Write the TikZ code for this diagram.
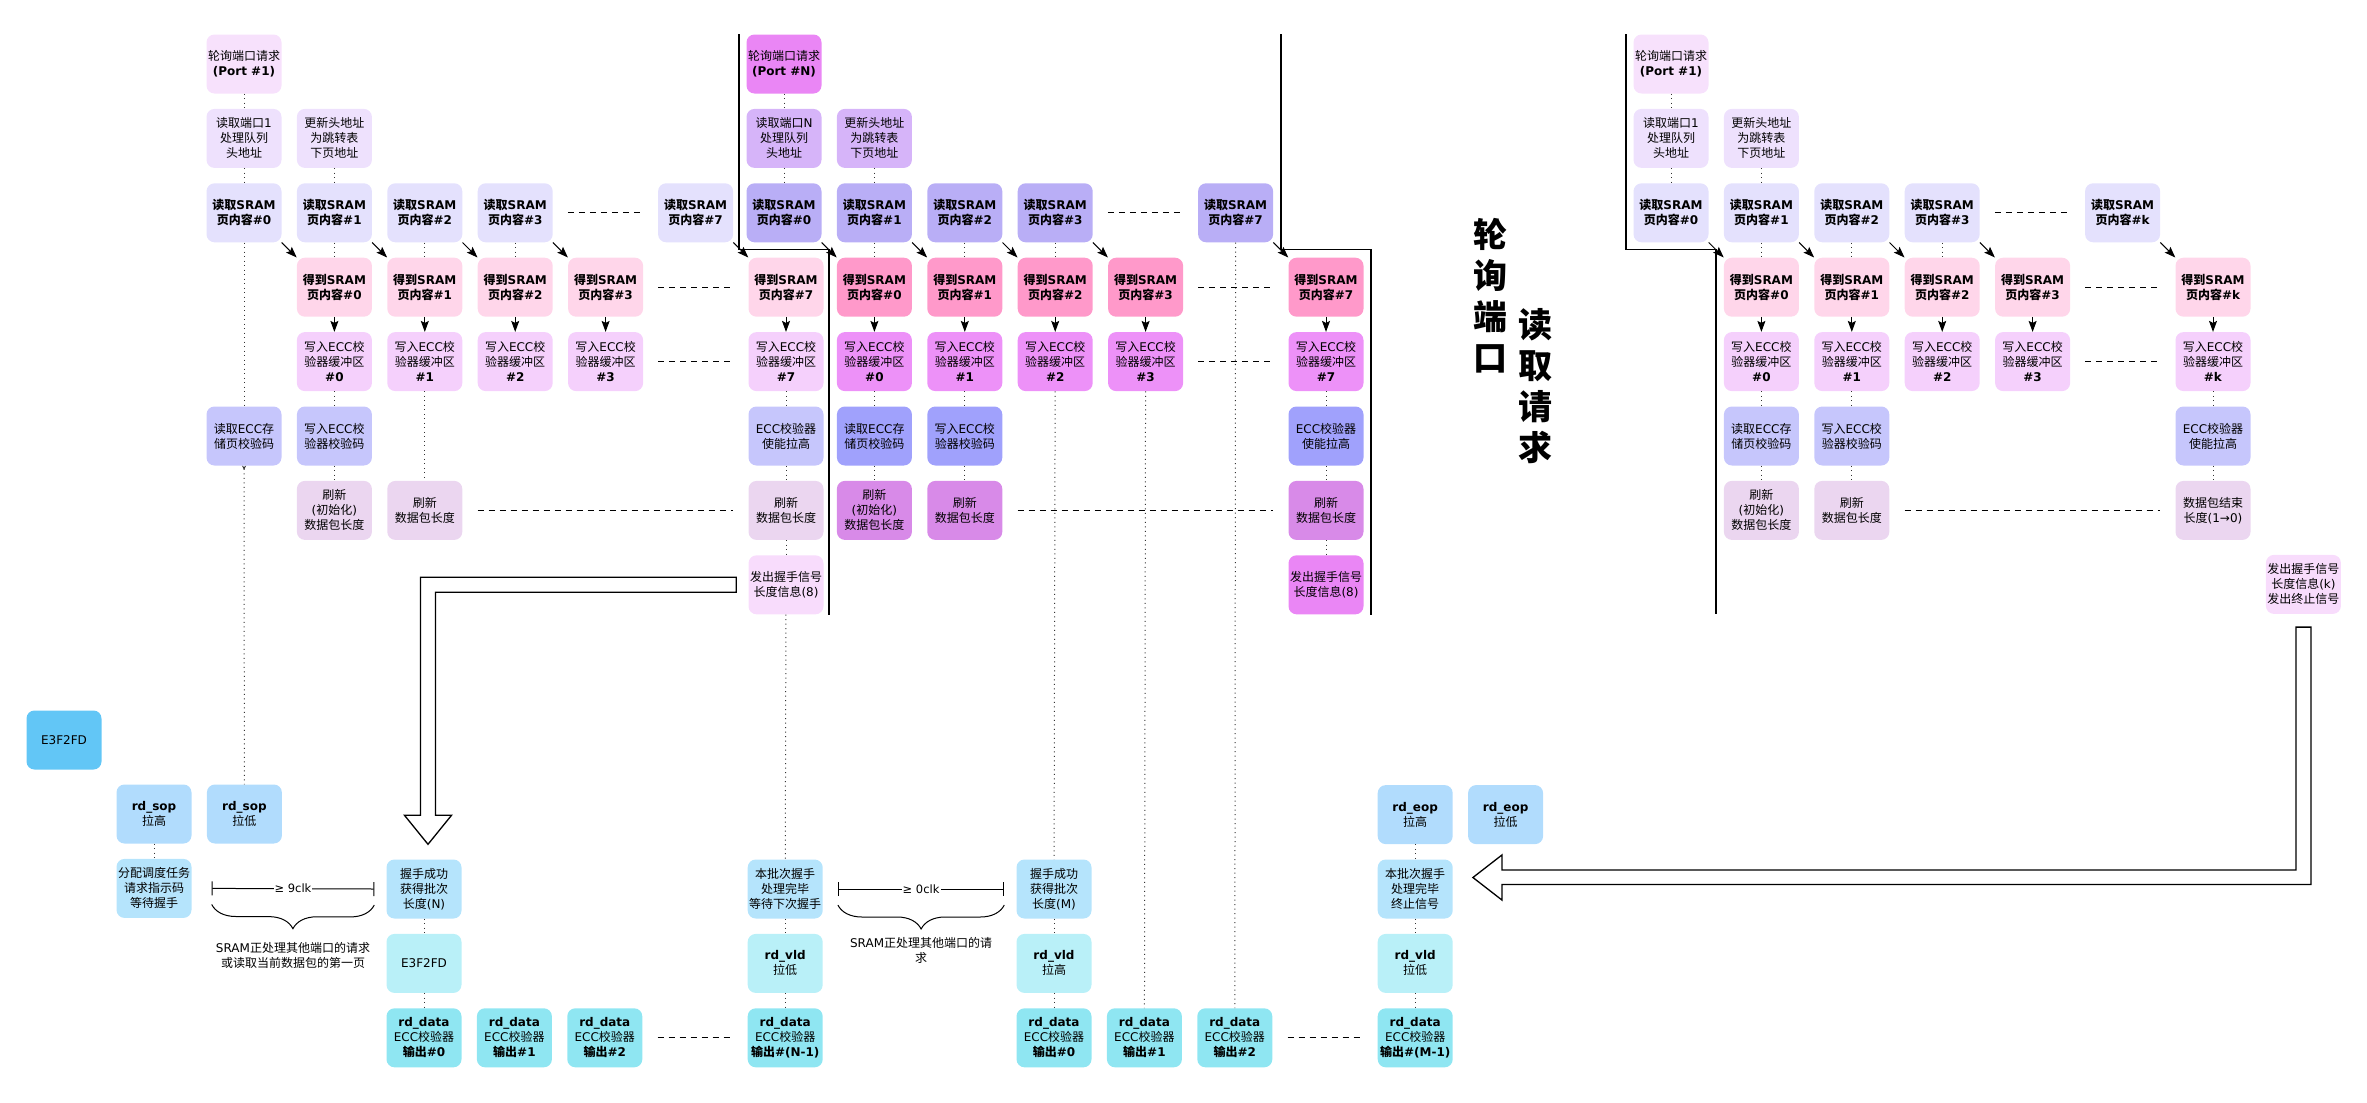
\documentclass[tikz,border=0pt]{standalone}
\usepackage{fontspec}
\setmainfont{DejaVu Sans}
\newfontfamily\cjkfont{Noto Sans CJK SC}
\newcount\cjkcode
\cjkcode="4E00
\loop
  \XeTeXcharclass\cjkcode=10
  \advance\cjkcode by 1
\ifnum\cjkcode<"A000
\repeat
\XeTeXinterchartokenstate=1
\XeTeXinterchartoks 0 10 = {\begingroup\cjkfont}
\XeTeXinterchartoks 4095 10 = {\begingroup\cjkfont}
\XeTeXinterchartoks 10 0 = {\endgroup}
\XeTeXinterchartoks 10 4095 = {\endgroup}
\usepackage{tikz}
\usetikzlibrary{arrows.meta, positioning, calc, decorations.pathreplacing}
\definecolor{portlt}{HTML}{F7E1FC}
\definecolor{headlt}{HTML}{EEE1FD}
\definecolor{readlt}{HTML}{E4E1FD}
\definecolor{getlt}{HTML}{FFD6EA}
\definecolor{buflt}{HTML}{F5D0FC}
\definecolor{ecclt}{HTML}{C6C6FC}
\definecolor{lenlt}{HTML}{EBD6F0}
\definecolor{shklt}{HTML}{F8DCFC}
\definecolor{portdk}{HTML}{EA86F5}
\definecolor{headdk}{HTML}{D6B4F9}
\definecolor{readdk}{HTML}{B9AEF6}
\definecolor{getdk}{HTML}{FF99CA}
\definecolor{bufdk}{HTML}{ED91F8}
\definecolor{eccdk}{HTML}{A0A1FC}
\definecolor{lendk}{HTML}{D88AE8}
\definecolor{sopc}{HTML}{B1DCFD}
\definecolor{hskc}{HTML}{B5E4FC}
\definecolor{vldc}{HTML}{B9F0F8}
\definecolor{datac}{HTML}{8FE6F2}
\definecolor{legc}{HTML}{62C6F6}

\begin{document}
\begin{tikzpicture}[x=1pt, y=-1pt, node distance=15pt,
  pbox/.style={rectangle, rounded corners=8pt, minimum width=75pt, minimum height=59pt, inner sep=0.5pt, align=center, font={\fontsize{12}{15}\selectfont}},
  pboxb/.style={pbox, font={\fontsize{12}{15}\selectfont\bfseries}},
  arr/.style={-{Stealth[length=11pt, width=8pt, inset=2pt]}, line width=1pt},
  dotln/.style={dash pattern=on 1pt off 3.5pt, line width=1pt, black!80},
  dsh/.style={dash pattern=on 6pt off 5pt, line width=1.3pt, shorten <=15pt, shorten >=15pt},
  sepline/.style={line width=1.6pt},
  fatarr/.style={line width=1.3pt, fill=white, line join=miter},
  note/.style={align=center, font={\fontsize{12}{15}\selectfont}}
]
\useasboundingbox (0,0) rectangle (2367,1103);

\node[pbox, fill=portlt] (aport) at (244,64) {轮询端口请求\\\textbf{(Port \#1)}};
\node[pbox, fill=headlt, below=of aport] (ahead) {读取端口1\\处理队列\\头地址};
\node[pbox, fill=headlt, right=of ahead] (anext) {更新头地址\\为跳转表\\下页地址};
\node[pboxb, fill=readlt, below=of ahead] (aread0) {读取SRAM\\页内容\#0};
\node[pboxb, fill=readlt, right=of aread0] (aread1) {读取SRAM\\页内容\#1};
\node[pboxb, fill=readlt, right=of aread1] (aread2) {读取SRAM\\页内容\#2};
\node[pboxb, fill=readlt, right=of aread2] (aread3) {读取SRAM\\页内容\#3};
\node[pboxb, fill=readlt, right=105pt of aread3] (aread7) {读取SRAM\\页内容\#7};
\node[pboxb, fill=getlt, below=of aread1] (aget0) {得到SRAM\\页内容\#0};
\node[pboxb, fill=getlt, right=of aget0] (aget1) {得到SRAM\\页内容\#1};
\node[pboxb, fill=getlt, right=of aget1] (aget2) {得到SRAM\\页内容\#2};
\node[pboxb, fill=getlt, right=of aget2] (aget3) {得到SRAM\\页内容\#3};
\node[pboxb, fill=getlt, right=105pt of aget3] (aget7) {得到SRAM\\页内容\#7};
\node[pbox, fill=buflt, below=of aget0] (abuf0) {写入ECC校\\验器缓冲区\\\textbf{\#0}};
\node[pbox, fill=buflt, below=of aget1] (abuf1) {写入ECC校\\验器缓冲区\\\textbf{\#1}};
\node[pbox, fill=buflt, below=of aget2] (abuf2) {写入ECC校\\验器缓冲区\\\textbf{\#2}};
\node[pbox, fill=buflt, below=of aget3] (abuf3) {写入ECC校\\验器缓冲区\\\textbf{\#3}};
\node[pbox, fill=buflt, below=of aget7] (abuf7) {写入ECC校\\验器缓冲区\\\textbf{\#7}};
\node[pbox, fill=ecclt, below=of abuf0] (aeccwr) {写入ECC校\\验器校验码};
\node[pbox, fill=ecclt, left=of aeccwr] (aeccrd) {读取ECC存\\储页校验码};
\node[pbox, fill=ecclt, below=of abuf7] (aeccen) {ECC校验器\\使能拉高};
\node[pbox, fill=lenlt, below=of aeccwr] (alen0) {刷新\\(初始化)\\数据包长度};
\node[pbox, fill=lenlt, right=of alen0] (alen1) {刷新\\数据包长度};
\node[pbox, fill=lenlt, below=of aeccen] (alen7) {刷新\\数据包长度};
\node[pbox, fill=shklt, below=of alen7] (ashk) {发出握手信号\\长度信息(8)};

\node[pbox, fill=portdk] (bport) at (784,64) {轮询端口请求\\\textbf{(Port \#N)}};
\node[pbox, fill=headdk, below=of bport] (bhead) {读取端口N\\处理队列\\头地址};
\node[pbox, fill=headdk, right=of bhead] (bnext) {更新头地址\\为跳转表\\下页地址};
\node[pboxb, fill=readdk, below=of bhead] (bread0) {读取SRAM\\页内容\#0};
\node[pboxb, fill=readdk, right=of bread0] (bread1) {读取SRAM\\页内容\#1};
\node[pboxb, fill=readdk, right=of bread1] (bread2) {读取SRAM\\页内容\#2};
\node[pboxb, fill=readdk, right=of bread2] (bread3) {读取SRAM\\页内容\#3};
\node[pboxb, fill=readdk, right=105pt of bread3] (bread7) {读取SRAM\\页内容\#7};
\node[pboxb, fill=getdk, below=of bread1] (bget0) {得到SRAM\\页内容\#0};
\node[pboxb, fill=getdk, right=of bget0] (bget1) {得到SRAM\\页内容\#1};
\node[pboxb, fill=getdk, right=of bget1] (bget2) {得到SRAM\\页内容\#2};
\node[pboxb, fill=getdk, right=of bget2] (bget3) {得到SRAM\\页内容\#3};
\node[pboxb, fill=getdk, right=105pt of bget3] (bget7) {得到SRAM\\页内容\#7};
\node[pbox, fill=bufdk, below=of bget0] (bbuf0) {写入ECC校\\验器缓冲区\\\textbf{\#0}};
\node[pbox, fill=bufdk, below=of bget1] (bbuf1) {写入ECC校\\验器缓冲区\\\textbf{\#1}};
\node[pbox, fill=bufdk, below=of bget2] (bbuf2) {写入ECC校\\验器缓冲区\\\textbf{\#2}};
\node[pbox, fill=bufdk, below=of bget3] (bbuf3) {写入ECC校\\验器缓冲区\\\textbf{\#3}};
\node[pbox, fill=bufdk, below=of bget7] (bbuf7) {写入ECC校\\验器缓冲区\\\textbf{\#7}};
\node[pbox, fill=eccdk, below=of bbuf0] (beccrd) {读取ECC存\\储页校验码};
\node[pbox, fill=eccdk, below=of bbuf1] (beccwr) {写入ECC校\\验器校验码};
\node[pbox, fill=eccdk, below=of bbuf7] (beccen) {ECC校验器\\使能拉高};
\node[pbox, fill=lendk, below=of beccrd] (blen0) {刷新\\(初始化)\\数据包长度};
\node[pbox, fill=lendk, below=of beccwr] (blen1) {刷新\\数据包长度};
\node[pbox, fill=lendk, below=of beccen] (blen7) {刷新\\数据包长度};
\node[pbox, fill=portdk, below=of blen7] (bshk) {发出握手信号\\长度信息(8)};

\node[pbox, fill=portlt] (cport) at (1671,64) {轮询端口请求\\\textbf{(Port \#1)}};
\node[pbox, fill=headlt, below=of cport] (chead) {读取端口1\\处理队列\\头地址};
\node[pbox, fill=headlt, right=of chead] (cnext) {更新头地址\\为跳转表\\下页地址};
\node[pboxb, fill=readlt, below=of chead] (cread0) {读取SRAM\\页内容\#0};
\node[pboxb, fill=readlt, right=of cread0] (cread1) {读取SRAM\\页内容\#1};
\node[pboxb, fill=readlt, right=of cread1] (cread2) {读取SRAM\\页内容\#2};
\node[pboxb, fill=readlt, right=of cread2] (cread3) {读取SRAM\\页内容\#3};
\node[pboxb, fill=readlt, right=105pt of cread3] (creadk) {读取SRAM\\页内容\#k};
\node[pboxb, fill=getlt, below=of cread1] (cget0) {得到SRAM\\页内容\#0};
\node[pboxb, fill=getlt, right=of cget0] (cget1) {得到SRAM\\页内容\#1};
\node[pboxb, fill=getlt, right=of cget1] (cget2) {得到SRAM\\页内容\#2};
\node[pboxb, fill=getlt, right=of cget2] (cget3) {得到SRAM\\页内容\#3};
\node[pboxb, fill=getlt, right=105pt of cget3] (cgetk) {得到SRAM\\页内容\#k};
\node[pbox, fill=buflt, below=of cget0] (cbuf0) {写入ECC校\\验器缓冲区\\\textbf{\#0}};
\node[pbox, fill=buflt, below=of cget1] (cbuf1) {写入ECC校\\验器缓冲区\\\textbf{\#1}};
\node[pbox, fill=buflt, below=of cget2] (cbuf2) {写入ECC校\\验器缓冲区\\\textbf{\#2}};
\node[pbox, fill=buflt, below=of cget3] (cbuf3) {写入ECC校\\验器缓冲区\\\textbf{\#3}};
\node[pbox, fill=buflt, below=of cgetk] (cbufk) {写入ECC校\\验器缓冲区\\\textbf{\#k}};
\node[pbox, fill=ecclt, below=of cbuf0] (ceccrd) {读取ECC存\\储页校验码};
\node[pbox, fill=ecclt, below=of cbuf1] (ceccwr) {写入ECC校\\验器校验码};
\node[pbox, fill=ecclt, below=of cbufk] (ceccen) {ECC校验器\\使能拉高};
\node[pbox, fill=lenlt, below=of ceccrd] (clen0) {刷新\\(初始化)\\数据包长度};
\node[pbox, fill=lenlt, below=of ceccwr] (clen1) {刷新\\数据包长度};
\node[pbox, fill=lenlt, below=of ceccen] (clenend) {数据包结束\\长度(1→0)};
\node[pbox, fill=shklt, right=of clenend, yshift=-74pt] (cshk) {发出握手信号\\长度信息(k)\\发出终止信号};

\node[font={\fontsize{34}{41}\selectfont\bfseries}, align=center] (titlea) at (1490,296) {轮\\询\\端\\口};
\node[font={\fontsize{34}{41}\selectfont\bfseries}, align=center] (titleb) at (1535,386) {读\\取\\请\\求};

\node[pbox, fill=legc] (legend) at (64,740) {E3F2FD};
\node[pbox, fill=sopc] (sophi) at (154,814) {\textbf{rd\_sop}\\拉高};
\node[pbox, fill=sopc, right=of sophi] (soplo) {\textbf{rd\_sop}\\拉低};
\node[pbox, fill=hskc, below=of sophi] (alloc) {分配调度任务\\请求指示码\\等待握手};
\node[pbox, fill=hskc] (hskN) at (424,889) {握手成功\\获得批次\\长度(N)};
\node[pbox, fill=vldc, below=of hskN] (gapN) {E3F2FD};
\node[pbox, fill=datac, below=of gapN] (ad0) {\textbf{rd\_data}\\ECC校验器\\\textbf{输出\#0}};
\node[pbox, fill=datac, right=of ad0] (ad1) {\textbf{rd\_data}\\ECC校验器\\\textbf{输出\#1}};
\node[pbox, fill=datac, right=of ad1] (ad2) {\textbf{rd\_data}\\ECC校验器\\\textbf{输出\#2}};
\node[pbox, fill=datac, right=105pt of ad2] (adN) {\textbf{rd\_data}\\ECC校验器\\\textbf{输出\#(N-1)}};
\node[pbox, fill=vldc, above=of adN] (bvldlo) {\textbf{rd\_vld}\\拉低};
\node[pbox, fill=hskc, above=of bvldlo] (bwait) {本批次握手\\处理完毕\\等待下次握手};
\node[pbox, fill=hskc] (hskM) at (1054,889) {握手成功\\获得批次\\长度(M)};
\node[pbox, fill=vldc, below=of hskM] (bvldhi) {\textbf{rd\_vld}\\拉高};
\node[pbox, fill=datac, below=of bvldhi] (bd0) {\textbf{rd\_data}\\ECC校验器\\\textbf{输出\#0}};
\node[pbox, fill=datac, right=of bd0] (bd1) {\textbf{rd\_data}\\ECC校验器\\\textbf{输出\#1}};
\node[pbox, fill=datac, right=of bd1] (bd2) {\textbf{rd\_data}\\ECC校验器\\\textbf{输出\#2}};
\node[pbox, fill=datac, right=105pt of bd2] (bdM) {\textbf{rd\_data}\\ECC校验器\\\textbf{输出\#(M-1)}};
\node[pbox, fill=vldc, above=of bdM] (cvldlo) {\textbf{rd\_vld}\\拉低};
\node[pbox, fill=hskc, above=of cvldlo] (bstop) {本批次握手\\处理完毕\\终止信号};
\node[pbox, fill=sopc, above=of bstop] (eophi) {\textbf{rd\_eop}\\拉高};
\node[pbox, fill=sopc, right=of eophi] (eoplo) {\textbf{rd\_eop}\\拉低};

\draw[dotln] (aport) -- (ahead);
\draw[dotln] (ahead) -- (aread0);
\draw[dotln] (aread0) -- (aeccrd);
\draw[dotln, {Stealth[length=4pt, width=4pt, reversed]}-] (aeccrd) -- (soplo);
\draw[dotln] (anext) -- (aread1);
\draw[dotln] (aread1) -- (aget0);
\draw[dotln] (aread2) -- (aget1);
\draw[dotln] (aread3) -- (aget2);
\draw[dotln] (abuf0) -- (aeccwr);
\draw[dotln] (aeccwr) -- (alen0);
\draw[dotln] (abuf1) -- (alen1);
\draw[dotln] (abuf7) -- (aeccen);
\draw[dotln] (aeccen) -- (alen7);
\draw[dotln] (alen7) -- (ashk);
\draw[dotln] (ashk) -- (bwait);
\draw[dotln] (bwait) -- (bvldlo);
\draw[dotln] (bvldlo) -- (adN);
\draw[arr] (aget0) -- (abuf0);
\draw[arr] (aget1) -- (abuf1);
\draw[arr] (aget2) -- (abuf2);
\draw[arr] (aget3) -- (abuf3);
\draw[arr] (aget7) -- (abuf7);
\draw[arr] (aread0.south east) -- (aget0.north west);
\draw[arr] (aread1.south east) -- (aget1.north west);
\draw[arr] (aread2.south east) -- (aget2.north west);
\draw[arr] (aread3.south east) -- (aget3.north west);
\draw[arr] (aread7.south east) -- (aget7.north west);
\draw[dsh] (aread3) -- (aread7);
\draw[dsh] (aget3) -- (aget7);
\draw[dsh] (abuf3) -- (abuf7);
\draw[dsh] (alen1) -- (alen7);

\draw[dotln] (bport) -- (bhead);
\draw[dotln] (bhead) -- (bread0);
\draw[dotln] (bnext) -- (bread1);
\draw[dotln] (bread1) -- (bget0);
\draw[dotln] (bread2) -- (bget1);
\draw[dotln] (bread3) -- (bget2);
\draw[dotln] (bbuf0) -- (beccrd);
\draw[dotln] (beccrd) -- (blen0);
\draw[dotln] (bbuf1) -- (beccwr);
\draw[dotln] (beccwr) -- (blen1);
\draw[dotln] (bbuf2) -- (hskM);
\draw[dotln] (hskM) -- (bvldhi);
\draw[dotln] (bvldhi) -- (bd0);
\draw[dotln] (bbuf3) -- (bd1);
\draw[dotln] (bread7) -- (bd2);
\draw[dotln] (bbuf7) -- (beccen);
\draw[dotln] (beccen) -- (blen7);
\draw[dotln] (blen7) -- (bshk);
\draw[arr] (bget0) -- (bbuf0);
\draw[arr] (bget1) -- (bbuf1);
\draw[arr] (bget2) -- (bbuf2);
\draw[arr] (bget3) -- (bbuf3);
\draw[arr] (bget7) -- (bbuf7);
\draw[arr] (bread0.south east) -- (bget0.north west);
\draw[arr] (bread1.south east) -- (bget1.north west);
\draw[arr] (bread2.south east) -- (bget2.north west);
\draw[arr] (bread3.south east) -- (bget3.north west);
\draw[arr] (bread7.south east) -- (bget7.north west);
\draw[dsh] (bread3) -- (bread7);
\draw[dsh] (bget3) -- (bget7);
\draw[dsh] (bbuf3) -- (bbuf7);
\draw[dsh] (blen1) -- (blen7);

\draw[dotln] (cport) -- (chead);
\draw[dotln] (chead) -- (cread0);
\draw[dotln] (cnext) -- (cread1);
\draw[dotln] (cread1) -- (cget0);
\draw[dotln] (cread2) -- (cget1);
\draw[dotln] (cread3) -- (cget2);
\draw[dotln] (cbuf0) -- (ceccrd);
\draw[dotln] (ceccrd) -- (clen0);
\draw[dotln] (cbuf1) -- (ceccwr);
\draw[dotln] (ceccwr) -- (clen1);
\draw[dotln] (cbufk) -- (ceccen);
\draw[dotln] (ceccen) -- (clenend);
\draw[arr] (cget0) -- (cbuf0);
\draw[arr] (cget1) -- (cbuf1);
\draw[arr] (cget2) -- (cbuf2);
\draw[arr] (cget3) -- (cbuf3);
\draw[arr] (cgetk) -- (cbufk);
\draw[arr] (cread0.south east) -- (cget0.north west);
\draw[arr] (cread1.south east) -- (cget1.north west);
\draw[arr] (cread2.south east) -- (cget2.north west);
\draw[arr] (cread3.south east) -- (cget3.north west);
\draw[arr] (creadk.south east) -- (cgetk.north west);
\draw[dsh] (cread3) -- (creadk);
\draw[dsh] (cget3) -- (cgetk);
\draw[dsh] (cbuf3) -- (cbufk);
\draw[dsh] (clen1) -- (clenend);

\draw[dotln] (sophi) -- (alloc);
\draw[dotln] (hskN) -- (gapN);
\draw[dotln] (gapN) -- (ad0);
\draw[dotln] (eophi) -- (bstop);
\draw[dotln] (bstop) -- (cvldlo);
\draw[dotln] (cvldlo) -- (bdM);
\draw[dsh] (ad2) -- (adN);
\draw[dsh] (bd2) -- (bdM);

\draw[sepline] ($(bport.north west)+(-7.5,0)$) |- ($(bget0.north west)+(-7.5,-8)$) -- ($(bget0.north west |- bshk.south)+(-7.5,0)$);
\draw[sepline] ($(bget7.north west |- bport.north)+(-7.5,0)$) |- ($(bget7.north east)+(7.5,-8)$) -- ($(bshk.south east)+(7.5,0)$);
\draw[sepline] ($(cport.north west)+(-7.5,0)$) |- ($(cget0.north west)+(-7.5,-8)$) -- ($(cget0.north west |- cshk.south)+(-7.5,0)$);

\draw[fatarr] ($(ashk.west)+(-12,-7.5)$) -| ($(hskN.north)+(-3.5,-44)$) -- ++(-16,0) -- ($(hskN.north)+(4,-15)$) -- ++(23.5,-29) -- ++(-16,0) |- ($(ashk.west)+(-12,7.5)$) -- cycle;
\draw[fatarr] ($(cshk.south)+(-7.5,13)$) -- ++(15,0) |- ($(bstop.east)+(49,-4.5)$) -- ++(0,15.5) -- ($(bstop.east)+(20,-11.5)$) -- ++(29,-22.5) -- ++(0,15) -| ($(cshk.south)+(-7.5,13)$) -- cycle;

\coordinate (gapl) at ($(alloc.east)+(20,0)$);
\coordinate (gapr) at ($(hskN.west)+(-12,0)$);
\draw[{Bar[width=14pt]}-{Bar[width=14pt]}, line width=1pt] (gapl) -- node[fill=white, inner sep=1pt, font={\fontsize{11.5}{13}\selectfont}] (clk9) {≥ 9clk} (gapr);
\draw[decorate, decoration={brace, mirror, amplitude=24pt}, line width=1pt] ($(gapl)+(0,16)$) -- ($(gapr)+(0,16)$);
\node[note, anchor=north] (busy1) at ($(gapl)!0.5!(gapr)+(0,50)$) {SRAM正处理其他端口的请求\\或读取当前数据包的第一页};
\coordinate (waitl) at ($(bwait.east)+(15,0)$);
\coordinate (waitr) at ($(hskM.west)+(-12,0)$);
\draw[{Bar[width=14pt]}-{Bar[width=14pt]}, line width=1pt] (waitl) -- node[fill=white, inner sep=1pt, font={\fontsize{11.5}{13}\selectfont}] (clk0) {≥ 0clk} (waitr);
\draw[decorate, decoration={brace, mirror, amplitude=24pt}, line width=1pt] ($(waitl)+(0,16)$) -- ($(waitr)+(0,16)$);
\node[note, anchor=north] (busy2) at ($(waitl)!0.5!(waitr)+(0,45)$) {SRAM正处理其他端口的请\\求};
\end{tikzpicture}
\end{document}
